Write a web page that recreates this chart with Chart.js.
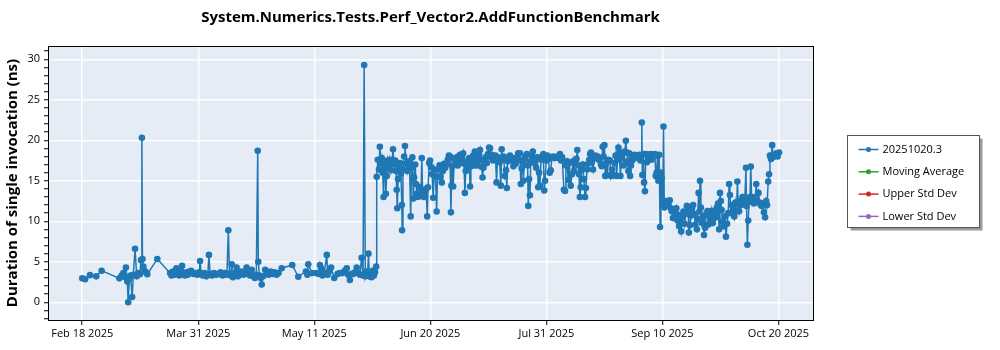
<!DOCTYPE html>
<html>
<head>
<meta charset="utf-8">
<title>Perf_Vector2.AddFunctionBenchmark</title>
<script src="https://cdn.jsdelivr.net/npm/chart.js@4/dist/chart.umd.min.js"></script>
<style>
  html, body { margin: 0; padding: 0; background: #fff; }
</style>
</head>
<body>
<canvas id="perfChart" width="1000" height="350"></canvas>
<script>
const chartTitle = 'System.Numerics.Tests.Perf_Vector2.AddFunctionBenchmark';
const yAxisTitle = 'Duration of single invocation (ns)';

// x values are days after Feb 18 2025
const xTickDays = [0, 40.67, 81.33, 122, 162.67, 203.33, 244];
const xTickLabels = ['Feb 18 2025', 'Mar 31 2025', 'May 11 2025', 'Jun 20 2025', 'Jul 31 2025', 'Sep 10 2025', 'Oct 20 2025'];

const seriesNames = ['20251020.3', 'Moving Average', 'Upper Std Dev', 'Lower Std Dev'];
const seriesColors = ['#1f77b4', '#2ca02c', '#d62728', '#9467bd'];

// one row of days lines up with the same row of durations
const runDays = [
  0, 1, 2.7, 4.9, 6.8, 13, 13.8, 14.4, 15.0, 15.3,
  15.8, 16.1, 16.5, 16.9, 17.5, 17.9, 18.5, 19.1, 19.6, 20.2,
  20.6, 20.9, 21.1, 21.4, 21.8, 22.3, 22.8, 26.3, 30.8, 31.3,
  31.8, 32.3, 33.0, 33.5, 34.0, 34.5, 35.0, 35.5, 36.0, 36.5,
  37.0, 37.5, 38.2, 39.0, 39.7, 40.3, 41.0, 41.3, 41.7, 42.2,
  42.8, 43.5, 44.0, 44.4, 44.8, 45.5, 46.2, 47.0, 47.8, 48.5,
  49.2, 50.0, 50.7, 51.2, 51.6, 52.0, 52.4, 52.8, 53.3, 53.7,
  54.1, 54.6, 55.2, 55.8, 56.5, 57.2, 57.6, 58.2, 58.8, 59.4,
  60.0, 60.5, 61.0, 61.5, 61.7, 62.1, 62.5, 62.9, 63.4, 64.1,
  64.7, 65.3, 66.0, 66.7, 67.4, 68.1, 68.8, 69.9, 73.6, 75.7,
  78.4, 78.9, 79.2, 80.5, 82.0, 83.0, 83.3, 83.7, 84.2, 84.8,
  85.7, 86.0, 86.5, 87.2, 88.3, 89.5, 90.3, 91.2, 92.0, 92.7,
  93.2, 93.8, 94.4, 95.0, 95.6, 96.2, 96.8, 97.3, 97.9, 98.4,
  98.8, 99.2, 99.6, 100.0, 100.3, 100.6, 101.0, 101.4, 101.8, 102.2,
  102.6, 103.0,
  103.2, 103.6, 104.0, 104.3, 104.7, 105.0, 105.3, 105.6, 105.9, 106.2,
  106.4, 106.7, 107.0, 107.4, 107.8, 108.2, 108.5, 108.9, 109.3, 109.7,
  110.0, 110.2, 110.4, 110.7, 111.0, 111.4, 111.7, 112.0, 112.1, 112.4,
  112.8, 113.1, 113.5, 113.9, 114.3, 114.7, 115.1, 115.4, 115.7, 116.0,
  116.3, 116.7, 117.0, 117.2, 117.6, 118.0, 118.3, 118.7, 119.0, 119.3,
  119.7, 120.1, 120.5, 120.9, 121.2, 121.6, 121.9, 122.2, 122.6, 123.0,
  123.4, 123.8, 124.2, 124.5, 124.8, 125.2, 125.6, 126.0, 126.4, 126.8,
  127.2, 127.7, 128.1, 128.5, 128.9, 129.2, 129.4, 129.7, 130.0, 130.4,
  130.8, 131.2, 131.6, 132.0, 132.4, 132.8, 133.2, 133.5, 133.8, 134.1,
  134.4, 134.8, 135.2, 135.6, 135.9, 136.2, 136.6, 137.0, 137.3, 137.6,
  138.0, 138.4, 138.8, 139.1, 139.4, 139.7, 140.0, 140.3, 140.6, 141.0,
  141.4, 141.8, 142.2, 142.6, 142.9, 143.2, 143.6, 144.0, 144.4, 144.8,
  145.2, 145.5, 145.9, 146.3, 146.7, 147.0, 147.3, 147.7, 148.1, 148.5,
  148.8, 149.1, 149.5, 149.9, 150.3, 150.7, 151.1, 151.5, 151.9, 152.3,
  152.8, 153.1, 153.4, 153.7, 154.0, 154.3, 154.6, 155.0, 155.4, 155.8,
  156.1, 156.3, 156.6, 156.9, 157.2, 157.6, 157.9, 158.3, 158.7, 159.1,
  159.5, 159.8, 160.1, 160.4, 160.8, 161.2, 161.6, 161.9, 162.2, 162.6,
  163.0, 163.4, 163.8, 164.2, 164.6, 165.0, 165.5, 166.0, 166.5, 167.0,
  167.4, 167.8, 168.2, 168.8, 169.2, 169.5, 169.9, 170.3, 170.7, 171.2,
  171.6, 172.0, 172.4, 172.8, 173.2, 173.5, 173.8, 174.1, 174.4, 174.7,
  175.0, 175.4, 175.8, 176.2, 176.5, 176.9, 177.3, 177.7, 178.0, 178.3,
  178.6, 179.0, 179.4, 179.8, 180.2, 180.6, 181.0, 181.4, 181.8, 182.1,
  182.4, 182.7, 183.0, 183.3, 183.6, 184.0, 184.4, 184.9, 185.3, 185.7,
  186.1, 186.5, 186.9, 187.3, 187.6, 187.9, 188.2, 188.6, 189.0, 189.4,
  189.8, 190.2, 190.5, 190.8, 191.1, 191.4, 191.7, 192.0, 192.3, 192.7,
  193.1, 193.5, 193.9, 194.3, 194.7, 195.1, 195.6, 196.0, 196.1, 196.3,
  196.6, 196.9, 197.2, 197.5, 197.9, 198.3, 198.7, 199.1, 199.5, 199.9,
  200.3, 200.7, 201.0, 201.3, 201.6, 201.9, 202.2, 202.5, 202.8, 203.1,
  203.4, 203.7, 204.0, 204.3, 204.7, 205.1, 205.5, 205.9, 206.3, 206.6,
  207.0, 207.4, 207.8, 208.2, 208.6, 208.9, 209.2, 209.5, 209.9, 210.3,
  210.7, 211.1, 211.5, 211.9, 212.3, 212.6, 213.0, 213.4, 213.7, 214.1,
  214.5, 214.9, 215.4, 215.7, 216.0, 216.3, 216.5, 216.8, 217.2, 217.6,
  217.9, 218.3, 218.7, 219.1, 219.5, 219.8, 220.2, 220.6, 221.0, 221.4,
  221.8, 222.1, 222.4, 222.8, 223.2, 223.5, 223.8, 224.1, 224.4, 224.8,
  225.2, 225.6, 226.0, 226.4, 226.7, 227.0, 227.3, 227.7, 228.1, 228.5,
  228.9, 229.3, 229.6, 229.9, 230.2, 230.6, 231.0, 231.4, 231.8, 232.2,
  232.6, 232.8, 233.1, 233.4, 233.7, 234.0, 234.3, 234.6, 235.0, 235.4,
  235.8, 236.2, 236.6, 237.0, 237.4, 237.8, 238.1, 238.5, 238.9, 239.3,
  239.7, 240.0, 240.4, 240.7, 241.0, 241.4, 241.8, 242.1, 242.5, 242.9,
  243.3, 243.7, 244.2
];

const durations = [
  2.95, 2.85, 3.35, 3.2, 3.9, 2.95, 3.3, 3.6, 3.1, 4.3,
  2.55, 0.0, 2.9, 3.3, 0.65, 3.4, 6.6, 3.2, 3.6, 3.45,
  5.2, 20.3, 5.35, 4.4, 3.9, 3.7, 3.45, 5.35, 3.6, 3.3,
  3.8, 3.4, 4.2, 3.5, 3.3, 3.9, 4.5, 3.6, 3.3, 3.7,
  3.4, 3.8, 3.9, 3.5, 3.6, 3.4, 3.7, 5.1, 3.5, 3.3,
  3.6, 3.2, 3.4, 5.85, 3.5, 3.3, 3.6, 3.4, 3.5, 3.7,
  3.3, 3.6, 3.4, 8.9, 3.5, 3.3, 4.7, 3.1, 3.6, 3.4,
  4.3, 3.2, 3.6, 3.8, 3.4, 3.6, 4.3, 3.5, 3.3, 4.0,
  3.2, 3.0, 3.4, 18.7, 5.0, 3.3, 3.0, 2.2, 3.2, 4.0,
  3.6, 3.4, 3.8, 3.5, 3.7, 3.4, 3.6, 4.2, 4.6, 3.15,
  3.8, 3.4, 4.7, 3.6, 3.6, 3.5, 4.6, 4.2, 3.3, 3.6,
  5.85, 3.4, 3.8, 4.3, 3.0, 3.5, 3.6, 3.6, 3.9, 4.2,
  3.4, 2.75, 3.5, 3.5, 3.7, 4.3, 3.6, 3.4, 5.5, 3.3,
  29.3, 3.2, 3.8, 3.4, 6.0, 3.2, 3.6, 3.1, 3.9, 3.3,
  3.7, 4.4,
  15.5, 17.6, 16.4, 19.2, 17.2, 17.8, 16.0, 13.0, 16.8, 17.4,
  13.4, 15.6, 17.5, 16.6, 17.6, 16.3, 17.2, 18.9, 17.0, 17.5,
  16.2, 13.9, 11.6, 15.2, 16.8, 17.2, 15.9, 12.0, 8.9, 16.4,
  18.0, 19.3, 17.1, 16.2, 17.4, 16.9, 10.6, 16.6, 17.9, 12.8,
  15.4, 17.0, 14.6, 13.4, 13.0, 13.6, 14.2, 13.2, 17.8, 13.5,
  13.0, 13.8, 14.0, 10.6, 14.2, 17.2, 17.5, 16.7, 15.8, 12.9,
  16.4, 15.6, 11.2, 15.5, 16.4, 16.9, 15.5, 14.8, 16.2, 17.1,
  16.6, 17.0, 17.6, 18.1, 18.0, 11.1, 14.4, 16.8, 14.3, 17.7,
  17.2, 17.9, 16.9, 17.5, 18.2, 17.3, 17.8, 18.4, 17.1, 13.5,
  16.2, 17.3, 16.5, 17.8, 14.3, 16.8, 17.6, 18.1, 16.9, 18.6,
  17.4, 16.9, 17.9, 18.2, 18.8, 17.6, 16.7, 15.4, 16.6, 17.4,
  17.9, 17.2, 18.3, 19.1, 19.0, 17.9, 18.2, 17.5, 17.8, 18.1,
  14.8, 17.6, 17.9, 17.3, 14.4, 18.9, 17.6, 18.0, 15.6, 16.3,
  14.1, 17.4, 17.8, 18.1, 17.5, 17.8, 16.8, 17.6, 17.1, 17.9,
  18.4, 17.6, 18.4, 14.6, 16.5, 17.4, 15.0, 17.7, 18.0, 18.3,
  16.9, 11.9, 15.2, 13.2, 17.4, 18.1, 18.6, 17.2, 17.7, 16.6,
  17.9, 14.2, 16.0, 14.4, 17.6, 18.0, 18.3, 13.8, 15.0, 17.5,
  18.1, 17.7, 16.0, 16.3, 17.9, 18.0, 17.8, 17.9, 18.0, 17.8,
  18.3, 17.5, 17.9, 13.9, 13.75, 16.9, 17.4, 15.1, 17.2, 14.4,
  15.8, 17.4, 16.2, 17.3, 17.7, 18.8, 16.9, 15.8, 13.0, 14.2,
  16.4, 17.0, 15.2, 13.0, 14.1, 16.4, 17.1, 17.6, 18.3, 18.5,
  17.3, 16.4, 17.8, 18.1, 17.9, 18.0, 17.6, 17.8, 17.0, 16.8,
  19.2, 18.0, 19.4, 15.6, 17.2, 15.7, 17.6, 17.5, 15.6, 16.4,
  15.7, 17.2, 18.1, 15.6, 17.6, 19.1, 18.5, 15.6, 17.8, 18.5,
  16.9, 18.6, 19.95, 18.5, 17.4, 16.2, 18.4, 15.6, 16.9, 17.5,
  18.0, 18.2, 17.8, 18.1, 17.9, 18.2, 17.5, 18.1, 22.2, 15.7,
  18.3, 14.8, 13.7, 18.3, 17.3, 17.8, 18.0, 18.3, 17.6, 18.0,
  18.2, 18.3, 15.6, 16.0, 18.1, 15.0, 18.2, 9.3, 16.0, 15.3,
  12.1, 21.7, 11.7, 12.3, 12.5, 12.0, 12.3, 12.6, 11.6, 11.25,
  10.4, 11.3, 10.9, 11.6, 10.1, 10.8, 9.4, 9.8, 8.75, 10.5,
  11.2, 9.7, 10.9, 11.9, 11.4, 8.6, 9.5, 10.7, 11.5, 12.0,
  10.9, 9.6, 9.0, 10.3, 13.5, 11.2, 15.0, 11.7, 9.8, 10.6,
  8.3, 9.2, 10.8, 11.25, 9.6, 10.7, 10.2, 11.3, 9.8, 10.4,
  11.1, 10.5, 11.7, 12.2, 9.0, 13.5, 12.5, 11.4, 10.0, 9.4,
  10.6, 8.1, 9.7, 11.0, 14.6, 13.25, 11.0, 12.0, 11.7, 10.6,
  12.3, 11.2, 14.9, 12.1, 11.25, 12.5, 12.0, 13.0, 12.2, 12.6,
  16.6, 11.9, 7.1, 10.1, 12.4, 13.0, 16.75, 12.6, 13.0, 12.2,
  12.6, 14.6, 12.4, 13.5, 12.3, 12.0, 11.9, 12.2, 11.1, 10.5,
  12.5, 12.0, 14.9, 15.8, 18.1, 17.7, 19.4, 17.9, 18.2, 18.1,
  18.4, 18.0, 18.5
];

const uiFont = '"Open Sans", "Noto Sans", sans-serif';

// plot background, frame, title and the boxed legend on the right
const decorPlugin = {
  id: 'decor',
  beforeDraw(chart) {
    const { ctx, chartArea: a } = chart;
    ctx.save();
    ctx.fillStyle = '#fff';
    ctx.fillRect(0, 0, chart.width, chart.height);
    ctx.fillStyle = '#e5ecf6';
    ctx.fillRect(a.left, a.top, a.right - a.left, a.bottom - a.top);
    ctx.restore();
  },
  afterDraw(chart) {
    const { ctx, chartArea: a } = chart;
    ctx.save();
    ctx.strokeStyle = '#000';
    ctx.lineWidth = 1;
    ctx.strokeRect(a.left + 0.5, a.top + 0.5, a.right - a.left, a.bottom - a.top);

    ctx.fillStyle = '#000';
    ctx.font = 'bold 15px ' + uiFont;
    ctx.textAlign = 'center';
    ctx.textBaseline = 'middle';
    ctx.fillText(chartTitle, (a.left + a.right) / 2, 18);

    // legend
    const lx = a.right + 34.5, ly = 135.5, lw = 132, lh = 92;
    ctx.fillStyle = '#9a9a9a';
    ctx.fillRect(lx + 3, ly + 3, lw, lh);
    ctx.fillStyle = '#fff';
    ctx.fillRect(lx, ly, lw, lh);
    ctx.strokeStyle = '#555';
    ctx.strokeRect(lx, ly, lw, lh);
    ctx.font = '11px ' + uiFont;
    ctx.textAlign = 'left';
    chart.data.datasets.forEach((ds, i) => {
      const y = ly + 14 + i * 22.3;
      ctx.strokeStyle = ds.borderColor;
      ctx.lineWidth = 1.5;
      ctx.beginPath();
      ctx.moveTo(lx + 11, y);
      ctx.lineTo(lx + 31, y);
      ctx.stroke();
      ctx.fillStyle = ds.borderColor;
      ctx.beginPath();
      ctx.arc(lx + 21, y, 2.5, 0, Math.PI * 2);
      ctx.fill();
      ctx.fillStyle = '#000';
      ctx.fillText(ds.label, lx + 35, y);
    });
    ctx.restore();
  }
};

const mainPoints = runDays.map((d, i) => ({ x: d, y: durations[i] }));

new Chart(document.getElementById('perfChart'), {
  type: 'line',
  data: {
    datasets: seriesNames.map((name, i) => ({
      label: name,
      data: i === 0 ? mainPoints : [],
      borderColor: seriesColors[i],
      backgroundColor: seriesColors[i],
      borderWidth: 1.5,
      pointRadius: 3.3,
      pointBorderWidth: 0,
      tension: 0
    }))
  },
  options: {
    responsive: false,
    animation: false,
    devicePixelRatio: 1,
    layout: { padding: { left: 0, right: 187, top: 46, bottom: 0 } },
    plugins: {
      legend: { display: false },
      title: { display: false },
      tooltip: { enabled: false }
    },
    scales: {
      x: {
        type: 'linear',
        min: -12.0,
        max: 256.1,
        afterFit: (scale) => { scale.height = 30; },
        afterBuildTicks: (scale) => { scale.ticks = xTickDays.map(v => ({ value: v })); },
        ticks: {
          autoSkip: false,
          maxRotation: 0,
          padding: 2,
          color: '#000',
          font: { family: uiFont, size: 11 },
          callback: (value, index) => xTickLabels[index]
        },
        grid: { color: '#fff', lineWidth: 1.5, tickColor: '#000', tickLength: 5, tickWidth: 1 },
        border: { display: false }
      },
      y: {
        type: 'linear',
        min: -2.19,
        max: 31.64,
        afterFit: (scale) => { scale.width = 48; },
        afterBuildTicks: (scale) => {
          const ticks = [];
          for (let v = Math.ceil(scale.min); v <= Math.floor(scale.max); v++) ticks.push({ value: v });
          scale.ticks = ticks;
        },
        title: {
          display: true,
          text: yAxisTitle,
          color: '#000',
          font: { family: uiFont, size: 15, weight: 'bold' },
          padding: { top: 4, bottom: 0 }
        },
        ticks: {
          autoSkip: false,
          padding: 4,
          color: '#000',
          font: { family: uiFont, size: 11 },
          callback: (value) => (value % 5 === 0 ? String(value) : '')
        },
        grid: {
          color: (c) => (c.tick && c.tick.value % 5 === 0 ? '#fff' : 'rgba(0,0,0,0)'),
          lineWidth: 1.5,
          tickColor: '#000',
          tickLength: 4,
          tickWidth: 1
        },
        border: { display: false }
      }
    }
  },
  plugins: [decorPlugin]
});
</script>
</body>
</html>
